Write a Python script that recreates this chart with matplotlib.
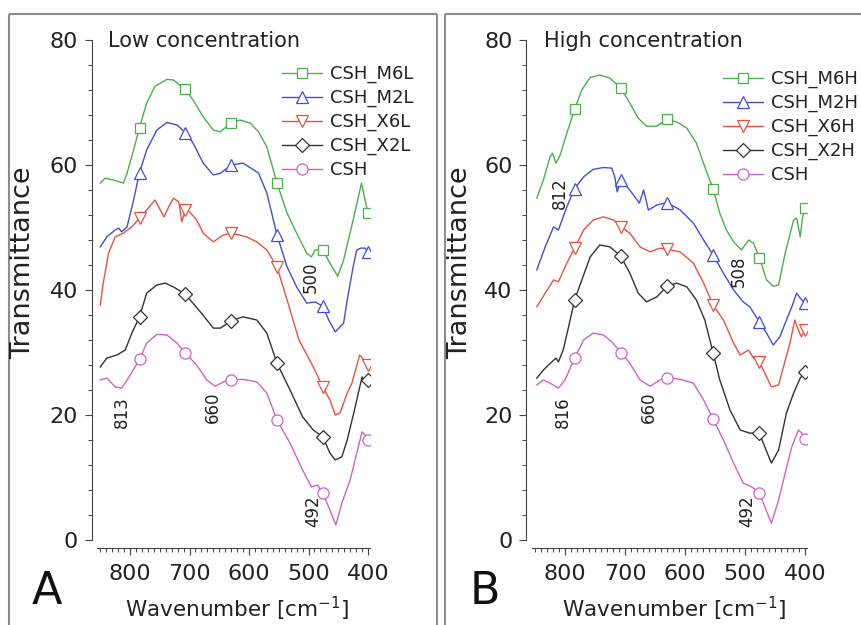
import numpy as np
import matplotlib
matplotlib.use("Agg")
import matplotlib.pyplot as plt
from matplotlib.lines import Line2D
from matplotlib.ticker import MultipleLocator

plt.rcParams['font.family'] = ['DejaVu Sans']

# ---------------- data: FTIR spectra (wavenumber, transmittance) ----------------
marker_x = [784, 707, 630, 553, 476, 400]

# Low concentration
m6l_x = [850, 842, 828, 811, 805, 794, 784, 772, 758, 738, 727, 707, 694, 677, 660, 648, 630, 615,
         598, 584, 570, 553, 536, 520, 503, 495, 489, 476, 464, 451, 441, 425, 411, 405, 400]
m6l_y = [57.1, 57.9, 57.6, 57.1, 58.7, 62.4, 66.0, 69.9, 72.6, 73.7, 73.6, 72.1, 70.4, 67.7, 65.6,
         65.3, 66.8, 67.2, 66.7, 65.3, 62.9, 57.1, 52.3, 49.1, 45.9, 45.3, 46.4, 46.4, 44.3, 42.2,
         44.8, 51.2, 57.1, 54.4, 52.3]

m2l_x = [850, 839, 825, 819, 814, 805, 794, 784, 772, 755, 738, 721, 707, 694, 677, 660, 648, 630,
         610, 592, 584, 570, 553, 536, 520, 503, 489, 476, 466, 455, 441, 435, 425, 419, 412, 405, 400]
m2l_y = [46.9, 48.5, 49.6, 49.9, 49.3, 50.1, 54.4, 58.8, 62.4, 65.6, 66.8, 66.4, 65.2, 63.5, 60.3,
         58.4, 58.7, 60.0, 60.3, 59.2, 58.7, 55.5, 48.8, 43.7, 40.5, 37.9, 38.1, 37.4, 35.2, 33.3,
         34.7, 38.4, 43.7, 46.4, 46.7, 46.7, 46.1]

x6l_x = [850, 845, 836, 825, 811, 797, 784, 772, 758, 752, 743, 735, 727, 718, 713, 707, 700, 688,
         677, 660, 643, 630, 604, 587, 570, 553, 536, 516, 492, 476, 464, 455, 447, 435, 427, 414,
         407, 400]
x6l_y = [37.6, 41.1, 45.9, 48.5, 49.1, 50.1, 51.5, 52.8, 54.4, 53.3, 51.7, 53.3, 54.7, 54.1, 50.9,
         52.8, 52.5, 51.2, 49.1, 47.7, 48.8, 49.1, 48.5, 47.7, 46.4, 43.7, 38.4, 32.0, 27.7, 24.5,
         22.4, 20.0, 20.3, 23.5, 25.1, 29.6, 28.8, 28.0]

x2l_x = [850, 839, 822, 808, 797, 784, 772, 755, 741, 727, 707, 680, 660, 648, 630, 610, 587, 570,
         553, 531, 510, 492, 476, 464, 455, 444, 435, 424, 410, 405, 400]
x2l_y = [27.7, 29.1, 29.6, 30.4, 33.1, 35.7, 39.5, 40.8, 41.1, 40.5, 39.3, 36.3, 33.9, 33.9, 35.1,
         35.7, 35.2, 33.1, 28.3, 24.0, 19.7, 17.6, 16.5, 13.9, 12.8, 13.3, 16.0, 20.3, 26.1, 25.3, 25.6]

cshl_x = [850, 839, 825, 814, 803, 784, 772, 755, 738, 721, 707, 688, 671, 657, 643, 630, 610, 587,
          570, 553, 531, 510, 495, 485, 476, 464, 454, 444, 430, 419, 410, 405, 400]
cshl_y = [25.6, 25.9, 24.5, 24.3, 25.9, 28.9, 31.5, 32.9, 32.8, 31.5, 29.9, 28.0, 25.6, 24.6, 25.3,
          25.6, 25.7, 25.3, 23.5, 19.2, 15.5, 11.2, 8.5, 8.8, 7.5, 4.8, 2.4, 5.9, 9.6, 13.9, 17.3,
          16.8, 16.0]

# High concentration
m6h_x = [847, 836, 825, 821, 815, 808, 797, 784, 772, 758, 742, 725, 707, 692, 678, 664, 647, 630,
         614, 597, 581, 567, 553, 542, 531, 519, 506, 494, 486, 476, 464, 453, 444, 433, 419, 414,
         408, 404, 400]
m6h_y = [54.7, 57.6, 61.3, 61.9, 60.3, 61.6, 65.1, 68.9, 72.0, 74.0, 74.4, 73.9, 72.3, 69.9, 67.5,
         66.2, 66.2, 67.3, 66.9, 65.9, 63.5, 59.7, 56.1, 52.3, 49.6, 47.7, 46.4, 48.0, 47.5, 45.2,
         41.6, 40.6, 40.8, 45.9, 51.2, 51.5, 48.5, 51.7, 53.2]

m2h_x = [847, 833, 819, 811, 797, 784, 769, 753, 736, 722, 717, 713, 707, 692, 676, 669, 661, 647,
         630, 608, 586, 569, 553, 536, 519, 503, 492, 476, 464, 453, 442, 431, 422, 414, 408, 400]
m2h_y = [43.2, 46.9, 50.1, 49.6, 53.3, 56.2, 58.1, 59.3, 59.6, 59.5, 58.1, 55.7, 57.6, 56.0, 53.9,
         56.0, 52.8, 53.6, 54.0, 52.8, 50.7, 48.0, 45.6, 42.7, 40.0, 38.1, 37.3, 34.9, 33.1, 31.2,
         32.5, 35.2, 37.3, 39.5, 38.7, 37.9]

x6h_x = [847, 833, 819, 811, 797, 784, 769, 753, 736, 719, 707, 692, 675, 658, 642, 630, 608, 586,
         569, 553, 536, 519, 508, 494, 486, 476, 464, 456, 444, 436, 425, 417, 411, 406, 400]
x6h_y = [37.3, 39.5, 41.6, 41.3, 44.3, 46.7, 49.6, 51.2, 51.7, 51.2, 50.1, 49.1, 46.9, 46.1, 46.7,
         46.5, 46.1, 44.3, 41.1, 37.6, 35.2, 31.5, 29.6, 30.4, 29.1, 28.5, 26.1, 24.5, 24.8, 27.7,
         31.5, 35.2, 33.6, 32.5, 33.6]

x2h_x = [847, 836, 822, 815, 811, 803, 794, 784, 772, 758, 742, 725, 707, 692, 678, 664, 647, 630,
         614, 597, 581, 567, 553, 542, 525, 508, 492, 476, 467, 456, 444, 431, 419, 408, 400]
x2h_y = [25.9, 27.2, 28.5, 29.1, 28.5, 30.4, 34.1, 38.4, 41.6, 45.3, 47.2, 46.9, 45.4, 42.7, 39.5,
         38.1, 38.9, 40.6, 41.1, 40.5, 38.4, 35.2, 29.9, 25.6, 20.8, 17.6, 17.1, 17.1, 14.9, 12.3,
         14.4, 20.3, 23.5, 25.9, 26.9]

cshh_x = [847, 836, 825, 811, 800, 784, 769, 753, 736, 722, 707, 692, 675, 658, 642, 630, 608, 586,
          569, 553, 536, 519, 503, 489, 476, 467, 456, 444, 433, 422, 411, 405, 400]
cshh_y = [24.8, 25.6, 25.1, 24.3, 25.6, 29.1, 32.0, 33.1, 32.8, 31.7, 30.0, 28.3, 25.6, 24.6, 25.6,
          26.0, 25.7, 25.1, 22.4, 19.3, 16.0, 12.3, 9.1, 8.5, 7.6, 5.3, 2.7, 6.4, 10.7, 14.9, 17.6,
          17.1, 16.1]

labels_low = ["CSH_M6L", "CSH_M2L", "CSH_X6L", "CSH_X2L", "CSH"]
labels_high = ["CSH_M6H", "CSH_M2H", "CSH_X6H", "CSH_X2H", "CSH"]
series_low = [(m6l_x, m6l_y), (m2l_x, m2l_y), (x6l_x, x6l_y), (x2l_x, x2l_y), (cshl_x, cshl_y)]
series_high = [(m6h_x, m6h_y), (m2h_x, m2h_y), (x6h_x, x6h_y), (x2h_x, x2h_y), (cshh_x, cshh_y)]

# band annotations: (text, wavenumber, transmittance)
notes_low = [("813", 813, 20.4), ("660", 660, 21.3), ("492", 492, 4.6), ("500", 497, 42.0)]
notes_high = [("812", 808, 55.5), ("508", 510, 43.0), ("816", 804, 20.4), ("660", 660, 21.2),
              ("492", 497, 4.6)]

colors = ["#4cae4c", "#3f4fd6", "#e5533f", "#333333", "#cf62c8"]
markers = ["s", "^", "v", "D", "o"]
msizes = [7, 8, 8, 7, 8]

# ---------------- figure ----------------
W, H = 861, 625
fig = plt.figure(figsize=(W / 100, H / 100), dpi=100)


def fx(px):
    return px / W


def fy(py):
    return 1 - py / H


def frame(x0, x1, top):
    kw = dict(color="#8c8c8c", lw=1.5, transform=fig.transFigure, solid_capstyle="butt")
    fig.add_artist(Line2D([fx(x0), fx(x0)], [fy(top), fy(H + 5)], **kw))
    fig.add_artist(Line2D([fx(x0), fx(x1)], [fy(top), fy(top)], **kw))
    if x1 < W:
        fig.add_artist(Line2D([fx(x1), fx(x1)], [fy(top), fy(H + 5)], **kw))


frame(8.5, 436.7, 13.5)
frame(444.5, W + 5, 13.5)


def panel(rect, series, labels, notes, title, title_px, letter_px, ylab_px, xlab_px, leg_px):
    ax = fig.add_axes(rect)
    for (xs, ys), lab, c, m, ms in zip(series, labels, colors, markers, msizes):
        xs = np.asarray(xs, float)
        ys = np.asarray(ys, float)
        idx = [int(np.argmin(np.abs(xs - mx))) for mx in marker_x]
        ax.plot(xs, ys, color=c, lw=1.0, marker=m, ms=ms, mfc="white", mec=c, mew=0.9,
                markevery=idx, label=lab)
    ax.set_xlim(855, 397)
    ax.set_ylim(0, 80)
    for s in ("top", "right"):
        ax.spines[s].set_visible(False)
    ax.spines["left"].set_position(("outward", 4))
    ax.spines["bottom"].set_position(("outward", 6))
    for s in ("left", "bottom"):
        ax.spines[s].set_color("#444444")
        ax.spines[s].set_linewidth(0.8)
    ax.xaxis.set_major_locator(MultipleLocator(100))
    ax.xaxis.set_minor_locator(MultipleLocator(10))
    ax.yaxis.set_major_locator(MultipleLocator(20))
    ax.yaxis.set_minor_locator(MultipleLocator(4))
    ax.tick_params(which="major", direction="out", length=5, width=0.8, color="#444444",
                   labelsize=16, labelcolor="#222222")
    ax.tick_params(which="minor", direction="out", length=3, width=0.7, color="#444444")
    ax.tick_params(axis="x", which="major", pad=6)
    ax.tick_params(axis="y", which="major", pad=5)
    ax.patch.set_alpha(0)

    for txt, xv, yv in notes:
        ax.text(xv, yv, txt, rotation=90, ha="center", va="center", fontsize=12, color="#222222")

    fig.text(fx(title_px[0]), fy(title_px[1]), title, fontsize=15, ha="left", va="baseline",
             color="#222222")
    fig.text(fx(letter_px[0]), fy(letter_px[1]), letter_px[2], fontsize=32, ha="center",
             va="center", color="#111111")
    fig.text(fx(ylab_px[0]), fy(ylab_px[1]), "Transmittance", rotation=90, fontsize=19.5,
             ha="center", va="center", color="#222222")
    fig.text(fx(xlab_px[0]), fy(xlab_px[1]), "Wavenumber [cm$^{-1}$]", fontsize=15.5,
             ha="center", va="baseline", color="#222222")

    ax.legend(loc="upper left", bbox_to_anchor=(fx(leg_px[0]), fy(leg_px[1])),
              bbox_transform=fig.transFigure, frameon=False, fontsize=13, borderpad=0,
              borderaxespad=0, handlelength=2.2, handletextpad=0.45, labelspacing=0.32,
              labelcolor="#222222")
    return ax


panel([fx(97.3), fy(540), (369.8 - 97.3) / W, 500 / H], series_low, labels_low, notes_low,
      "Low concentration", (108, 47), (47, 592, "A"), (23, 263), (237, 617), (282, 65))
panel([fx(532), fy(540), (806.8 - 532) / W, 500 / H], series_high, labels_high, notes_high,
      "High concentration", (544, 47), (485, 592, "B"), (460, 263), (674, 617), (723, 70))

fig.savefig("out.png", dpi=100)
